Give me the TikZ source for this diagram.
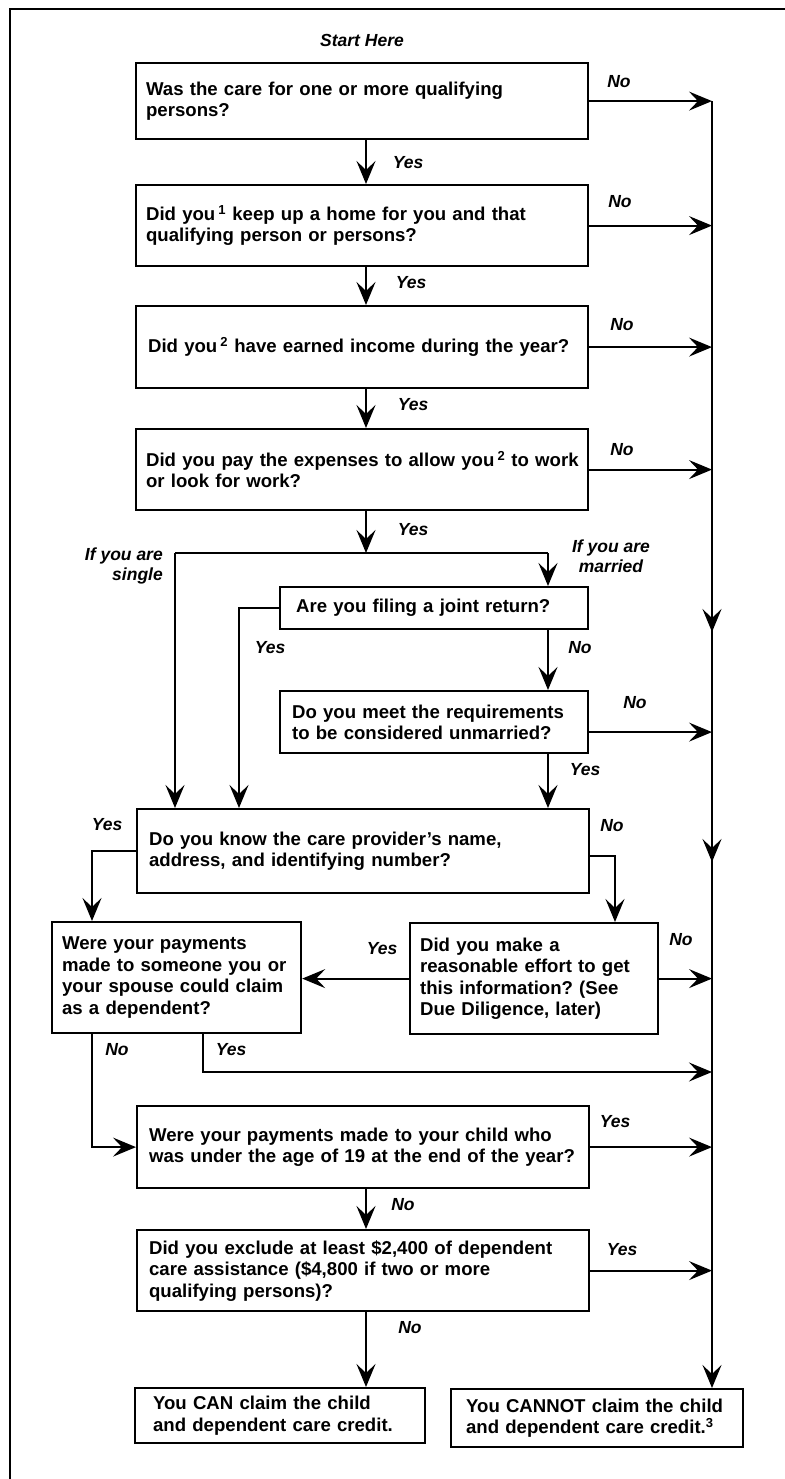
\documentclass[tikz,border=0pt]{standalone}
\usepackage{fontspec}
\setmainfont{Liberation Sans}
\usetikzlibrary{arrows.meta}
\frenchspacing

\begin{document}
\begin{tikzpicture}[x=1pt, y=-1pt,
  qbox/.style={draw, line width=2.2pt, anchor=north west, align=left, inner xsep=10pt, inner ysep=0pt,
    font=\fontsize{18.6}{21.5}\selectfont\bfseries},
  lbl/.style={font=\fontsize{17.5}{19.5}\selectfont\bfseries\itshape, inner sep=0pt},
  ln/.style={line width=2pt},
  arr/.style={ln, -{Stealth[length=23pt, width=19pt, inset=9pt]}}]
  \useasboundingbox (0,0) rectangle (784,1479);
  \draw[line width=2pt] (10,1490) -- (10,9) -- (790,9);

  \coordinate (mc) at (366,0);
  \coordinate (rc) at (712,0);
  \coordinate (lc) at (175,0);
  \coordinate (jc) at (239,0);
  \coordinate (mrc) at (548,0);
  \coordinate (yc) at (92,0);
  \coordinate (nc) at (615,0);
  \coordinate (fork) at (366,553);
  \coordinate (yc2) at (203,1072);

  \node[lbl] (start) at (362,40) {Start Here};
  \node[qbox, text width=432pt, minimum height=76pt] (q1) at (135,62)
    {Was the care for one or more qualifying\\persons?};
  \node[qbox, text width=432pt, minimum height=81pt] (q2) at (135,184)
    {Did you\,\textsuperscript{1} keep up a home for you and that\\qualifying person or persons?};
  \node[qbox, minimum height=82pt, inner xsep=12pt, text width=428pt] (q3) at (135,305)
    {\mbox{Did you\,\textsuperscript{2} have earned income during the year?}};
  \node[qbox, text width=432pt, minimum height=81pt] (q4) at (135,428)
    {\mbox{Did you pay the expenses to allow you\,\textsuperscript{2} to work}\\or look for work?};
  \node[qbox, inner xsep=16pt, text width=276pt, minimum height=42pt] (q5) at (279,586)
    {Are you filing a joint return?};
  \node[qbox, inner xsep=12pt, text width=284pt, minimum height=62pt] (q6) at (279,690)
    {Do you meet the requirements\\to be considered unmarried?};
  \node[qbox, inner xsep=12pt, text width=428pt, minimum height=84pt] (q7) at (136,808)
    {Do you know the care provider's name,\\address, and identifying number?};
  \node[qbox, text width=229pt, minimum height=111pt] (q8) at (51,921)
    {Were your payments\\\mbox{made to someone you or}\\\mbox{your spouse could claim}\\as a dependent?};
  \node[qbox, text width=228pt, minimum height=111pt] (q9) at (409,922)
    {Did you make a\\\mbox{reasonable effort to get}\\\mbox{this information? (See}\\Due Diligence, later)};
  \node[qbox, inner xsep=12pt, text width=428pt, minimum height=82pt] (q10) at (136,1105)
    {Were your payments made to your child who\\\mbox{was under the age of 19 at the end of the year?}};
  \node[qbox, inner xsep=12pt, text width=428pt, minimum height=81pt] (q11) at (136,1229)
    {\mbox{Did you exclude at least \$2,400 of dependent}\\care assistance (\$4,800 if two or more\\qualifying persons)?};
  \node[qbox, inner xsep=18pt, text width=254pt, minimum height=55pt] (r1) at (134,1387)
    {You CAN claim the child\\and dependent care credit.};
  \node[qbox, inner xsep=15pt, text width=262pt, minimum height=58pt] (r2) at (450,1388)
    {\mbox{You CANNOT claim the child}\\and dependent care credit.\textsuperscript{3}};

  % yes / no labels
  \node[lbl] (y1) at (408,163) {Yes};
  \node[lbl] (n1) at (619,82) {No};
  \node[lbl] (y2) at (411,283) {Yes};
  \node[lbl] (n2) at (620,202) {No};
  \node[lbl] (y3) at (413,405) {Yes};
  \node[lbl] (n3) at (622,325) {No};
  \node[lbl] (y4) at (413,530) {Yes};
  \node[lbl] (n4) at (622,450) {No};
  \node[lbl, align=right, anchor=north east] (single) at (163,548) {If you are\\single};
  \node[lbl, align=center] (married) at (611,556) {If you are\\married};
  \node[lbl] (y5) at (270,648) {Yes};
  \node[lbl] (n5) at (580,648) {No};
  \node[lbl] (n6) at (635,703) {No};
  \node[lbl] (y6) at (585,770) {Yes};
  \node[lbl] (y7) at (107,825) {Yes};
  \node[lbl] (n7) at (612,826) {No};
  \node[lbl] (y9) at (382,949) {Yes};
  \node[lbl] (n9) at (681,940) {No};
  \node[lbl] (n8) at (117,1050) {No};
  \node[lbl] (y8) at (231,1050) {Yes};
  \node[lbl] (y10) at (615,1122) {Yes};
  \node[lbl] (n10) at (403,1205) {No};
  \node[lbl] (y11) at (622,1250) {Yes};
  \node[lbl] (n11) at (410,1328) {No};

  % main column
  \draw[arr] (q1.south -| mc) -- (q2.north -| mc);
  \draw[arr] (q2.south -| mc) -- (q3.north -| mc);
  \draw[arr] (q3.south -| mc) -- (q4.north -| mc);
  \draw[arr] (q4.south -| mc) -- (fork);
  \draw[ln] (fork -| lc) -- (fork -| mrc);
  \draw[arr] (fork -| lc) -- (q7.north -| lc);
  \draw[arr] (fork -| mrc) -- (q5.north -| mrc);
  \draw[arr] (q5.west) -| (q7.north -| jc);
  \draw[arr] (q5.south -| mrc) -- (q6.north -| mrc);
  \draw[arr] (q6.south -| mrc) -- (q7.north -| mrc);
  \draw[arr] (q7.west) -| (q8.north -| yc);
  \draw[arr] ([yshift=-5pt]q7.east) -| (q9.north -| nc);
  \draw[arr] (q9.west) -- (q9.west -| q8.east);
  \draw[arr] (q8.south -| yc) |- (q10.west);
  \draw[arr] (q8.south -| yc2) |- (yc2 -| rc);
  \draw[arr] (q10.south -| mc) -- (q11.north -| mc);
  \draw[arr] (q11.south -| mc) -- (r1.north -| mc);

  % no / yes to the right line
  \draw[arr] (q1.east) -- (q1.east -| rc);
  \draw[arr] (q2.east) -- (q2.east -| rc);
  \draw[arr] (q3.east) -- (q3.east -| rc);
  \draw[arr] (q4.east) -- (q4.east -| rc);
  \draw[arr] ([yshift=-10pt]q6.east) -- ([yshift=-10pt]q6.east -| rc);
  \draw[arr] (q9.east) -- (q9.east -| rc);
  \draw[arr] (q10.east) -- (q10.east -| rc);
  \draw[arr] (q11.east) -- (q11.east -| rc);
  \draw[arr] (q1.east -| rc) -- (r2.north -| rc);
  \draw[arr] (712,600) -- (712,632);
  \draw[arr] (712,830) -- (712,862);
\end{tikzpicture}
\end{document}
